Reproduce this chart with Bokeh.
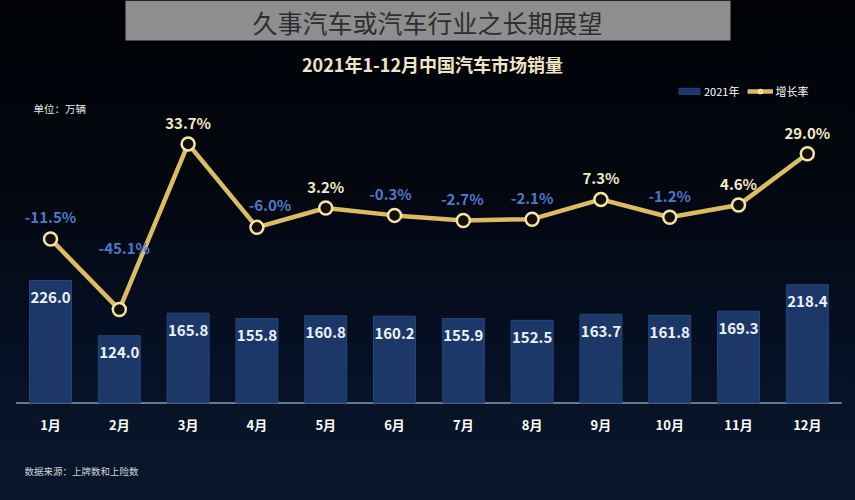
from bokeh.plotting import figure
from bokeh.models import (ColumnDataSource, Range1d, LinearAxis, Label, BoxAnnotation,
                          Legend, LegendItem)
from bokeh.core.properties import value
from bokeh.embed import file_html
from bokeh.resources import INLINE

# ---------------- data ----------------
months = ["1月", "2月", "3月", "4月", "5月", "6月", "7月", "8月", "9月", "10月", "11月", "12月"]
sales_2021 = [226.0, 124.0, 165.8, 155.8, 160.8, 160.2, 155.9, 152.5, 163.7, 161.8, 169.3, 218.4]
growth_rate = [-11.5, -45.1, 33.7, -6.0, 3.2, -0.3, -2.7, -2.1, 7.3, -1.2, 4.6, 29.0]

banner_text = "久事汽车或汽车行业之长期展望"
chart_title = "2021年1-12月中国汽车市场销量"
unit_text = "单位：万辆"
source_text = "数据来源：上牌数和上险数"
series_names = ["2021年", "增长率"]

# ---------------- styles ----------------
CJK = "Noto Sans CJK SC"
W, H = 855, 500
BAR_COLOR = "#1c3868"
LINE_COLOR = "#dcbc62"
POS_COLOR = "#f3e9c6"
NEG_COLOR = "#4f78c8"

# label offsets (screen px) for growth labels: default above point
rate_dx = [0, 5, 0, 13, 0, -4, -1, 0, 0, 0, 0, 0]
rate_dy = [-22, -62, -21, -23, -22, -22, -22, -22, -22, -22, -22, -21]

xs = list(range(len(months)))
src = ColumnDataSource(dict(
    x=xs, month=months, sales=sales_2021,
    sales_txt=[f"{v:.1f}" for v in sales_2021],
    rate=growth_rate,
    rate_txt=[f"{v:.1f}%" for v in growth_rate],
    rate_col=[POS_COLOR if v >= 0 else NEG_COLOR for v in growth_rate],
    dx=rate_dx, dy=rate_dy,
))

p = figure(width=W, height=H, output_backend="svg", toolbar_location=None,
           x_range=Range1d(-0.727, 11.70), y_range=Range1d(-179.9, 742.6),
           x_axis_type=None, y_axis_type=None, min_border=0)
p.extra_y_ranges = {"rate": Range1d(-135.9, 101.9)}
p.xgrid.visible = False
p.ygrid.visible = False
p.outline_line_color = None
p.background_fill_alpha = 0
p.border_fill_alpha = 0
p.styles = {"background": "linear-gradient(to bottom, #000206 0%, #02060e 35%, #061024 70%, #0a172b 100%)"}

# banner
p.add_layout(BoxAnnotation(left=125, right=730, bottom=H - 40, top=H,
                           left_units="screen", right_units="screen",
                           bottom_units="screen", top_units="screen",
                           fill_color="#8e8e8e", fill_alpha=1, line_color=None))
p.add_layout(Label(x=427, y=H - 21, x_units="screen", y_units="screen", text=banner_text,
                   text_font=CJK, text_font_size="25px", text_color="#2e2e2e",
                   text_align="center", text_baseline="middle"))
p.add_layout(Label(x=432, y=H - 63, x_units="screen", y_units="screen", text=chart_title,
                   text_font=CJK, text_font_size="18px", text_font_style="bold",
                   text_color="#f1e4c4", text_align="center", text_baseline="middle"))
p.add_layout(Label(x=33, y=H - 108, x_units="screen", y_units="screen", text=unit_text,
                   text_font=CJK, text_font_size="10.5px", text_color="#e6e6e6",
                   text_align="left", text_baseline="middle"))
p.add_layout(Label(x=24, y=H - 470, x_units="screen", y_units="screen", text=source_text,
                   text_font=CJK, text_font_size="9.5px", text_color="#d0d4dc",
                   text_align="left", text_baseline="middle"))

# baseline
p.segment(x0=[-0.5], y0=[0], x1=[len(months) - 0.5], y1=[0], line_color="#8d9bb0", line_width=1.5)

# bars
bars = p.vbar(x="x", top="sales", width=0.61, bottom=0, source=src,
              fill_color=BAR_COLOR, line_color="#24467c", line_width=1)
p.text(x="x", y="sales", text="sales_txt", source=src, y_offset=17,
       text_font=value(CJK), text_font_size="15px", text_font_style="bold",
       text_color="#eef2fa", text_align="center", text_baseline="middle")

# month labels
p.text(x="x", y=0, text="month", source=src, y_offset=22,
       text_font=value(CJK), text_font_size="13px", text_font_style="bold",
       text_color="#ffffff", text_align="center", text_baseline="middle")

# growth line
line = p.line(x="x", y="rate", source=src, y_range_name="rate",
              line_color=LINE_COLOR, line_width=4.5, line_join="round")
dots = p.scatter(x="x", y="rate", source=src, y_range_name="rate", size=13,
                 fill_color="#140f06", line_color="#f3e3a6", line_width=2.5)
p.text(x="x", y="rate", text="rate_txt", source=src, y_range_name="rate",
       x_offset="dx", y_offset="dy",
       text_font=value(CJK), text_font_size="15px", text_font_style="bold",
       text_color="rate_col", text_align="center", text_baseline="middle")

legend = Legend(items=[LegendItem(label=series_names[0], renderers=[bars]),
                       LegendItem(label=series_names[1], renderers=[line, dots])],
                location=(676, 401), orientation="horizontal",
                glyph_width=26, glyph_height=8, label_height=12,
                label_text_font=CJK, label_text_font_size="11px", label_text_color="#ffffff",
                background_fill_alpha=0, border_line_alpha=0, padding=0, margin=0,
                spacing=8, label_standoff=2)
p.add_layout(legend)

open("out.html", "w").write(file_html(p, INLINE))
